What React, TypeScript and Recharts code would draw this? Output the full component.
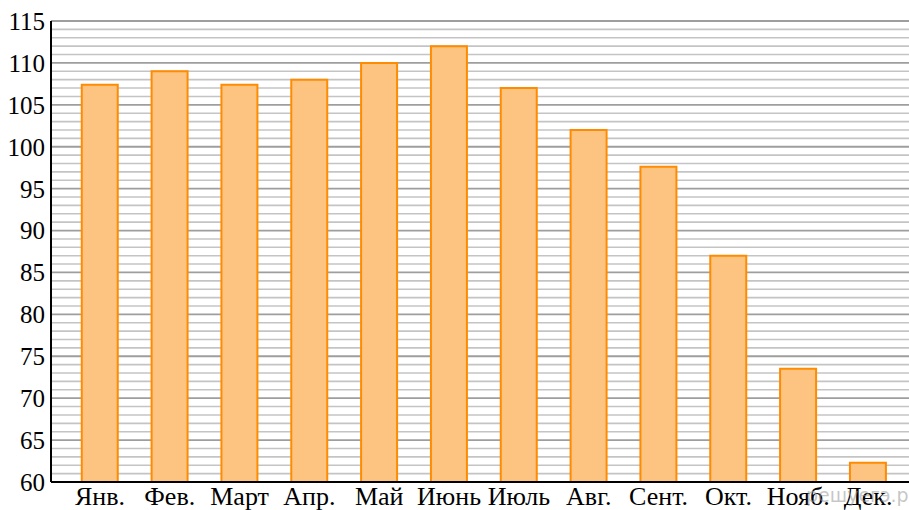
import { Bar, BarChart, CartesianGrid, XAxis, YAxis } from "recharts";

const months = ["Янв.", "Фев.", "Март", "Апр.", "Май", "Июнь", "Июль", "Авг.", "Сент.", "Окт.", "Нояб.", "Дек."];
const values = [107.4, 109, 107.4, 108, 110, 112, 107, 102, 97.6, 87, 73.5, 62.3];
const yTicks = [60, 65, 70, 75, 80, 85, 90, 95, 100, 105, 110, 115];
const minorLines = Array.from({ length: 55 }, (_, i) => 61 + i).filter((v) => v % 5 !== 0);
const majorLines = [65, 70, 75, 80, 85, 90, 95, 100, 105, 110, 115];

const data = months.map((month, i) => ({ month, value: values[i] }));

const font = "'Liberation Serif', 'Times New Roman', serif";

export default function App() {
  return (
    <div style={{ position: "fixed", left: 0, top: 0, width: 909, height: 510, background: "#fff", overflow: "hidden" }}>
      <BarChart
        width={909}
        height={520}
        data={data}
        margin={{ top: 21, right: 0, left: 0, bottom: 10 }}
        barCategoryGap="24%"
      >
        <CartesianGrid vertical={false} horizontalValues={minorLines} stroke="#c4c4c4" strokeWidth={1.6} />
        <CartesianGrid vertical={false} horizontalValues={majorLines} stroke="#9e9e9e" strokeWidth={1.8} />
        <XAxis
          dataKey="month"
          interval={0}
          height={28}
          padding={{ left: 14, right: 6 }}
          tickLine={false}
          tickSize={0}
          tickMargin={5}
          axisLine={{ stroke: "#000", strokeWidth: 2 }}
          tick={{ fill: "#000", fontSize: 26, fontFamily: font }}
        />
        <YAxis
          domain={[60, 115]}
          ticks={yTicks}
          interval={0}
          width={51}
          tickLine={false}
          tickSize={0}
          tickMargin={6}
          axisLine={{ stroke: "#000", strokeWidth: 2 }}
          tick={{ fill: "#000", fontSize: 25, fontFamily: font }}
          allowDataOverflow
        />
        <Bar
          dataKey="value"
          fill="#fdc381"
          stroke="#ff8c00"
          strokeWidth={2}
          isAnimationActive={false}
        />
      </BarChart>
      <div
        style={{
          position: "absolute",
          left: 806,
          top: 484,
          fontFamily: "'DejaVu Sans', sans-serif",
          fontSize: 19,
          color: "rgba(150,150,150,0.55)",
        }}
      >
        решуегэ.рф
      </div>
    </div>
  );
}
